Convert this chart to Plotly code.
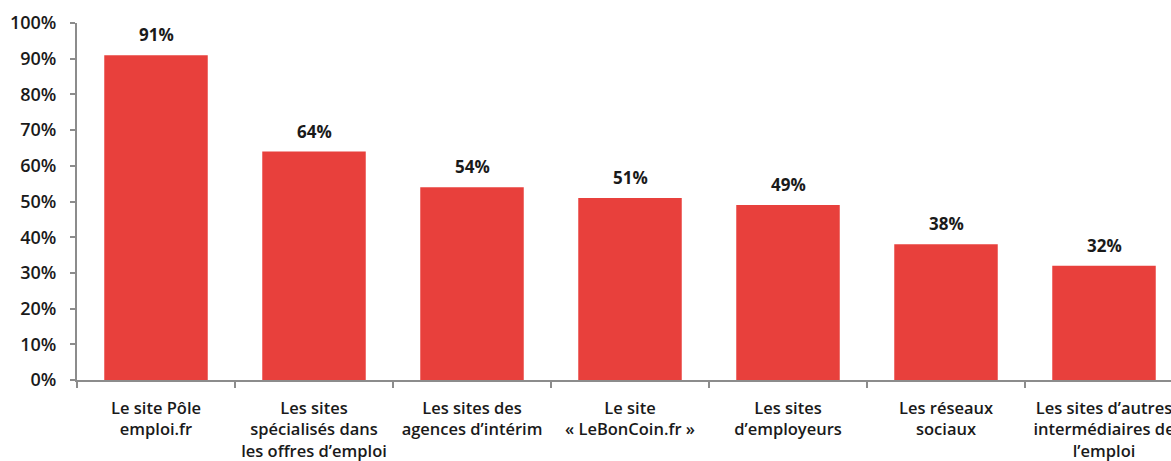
import plotly.graph_objects as go

categories = [
    "Le site Pôle<br>emploi.fr",
    "Les sites<br>spécialisés dans<br>les offres d’emploi",
    "Les sites des<br>agences d’intérim",
    "Le site<br>« LeBonCoin.fr »",
    "Les sites<br>d’employeurs",
    "Les réseaux<br>sociaux",
    "Les sites d’autres<br>intermédiaires de<br>l’emploi",
]
values = [91, 64, 54, 51, 49, 38, 32]
y_ticks = [0, 10, 20, 30, 40, 50, 60, 70, 80, 90, 100]
y_tick_labels = [f"{t}%" for t in y_ticks]

BAR = "#E8403C"
AXIS = "#8c8c8c"
FONT = "Open Sans"

fig = go.Figure()
fig.add_trace(go.Bar(
    x=list(range(len(categories))), y=values, marker_color=BAR, width=0.655,
    marker_line_width=0, hoverinfo="skip",
))
for i, v in enumerate(values):
    fig.add_annotation(x=i, y=v, text=f"<b>{v}%</b>", showarrow=False,
                       yanchor="bottom", yshift=7,
                       font=dict(family=FONT, size=17, color="#1a1a1a"))

fig.update_layout(
    width=1171, height=461,
    margin=dict(l=77, r=0, t=23, b=81),
    plot_bgcolor="white", paper_bgcolor="white",
    showlegend=False,
)
fig.update_xaxes(
    range=[-0.5, 6.424], automargin=False,
    tickmode="array", tickvals=list(range(len(categories))), ticktext=categories,
    ticklabeloverflow="allow",
    showline=True, linecolor=AXIS, linewidth=2,
    ticks="", showgrid=False, zeroline=False,
    tickfont=dict(family=FONT, size=16.5, color="#1a1a1a", weight=600),
    ticklabelstandoff=12,
    minor=dict(tickmode="array", tickvals=[i - 0.5 for i in range(len(categories) + 1)],
               ticks="outside", ticklen=6, tickcolor=AXIS, tickwidth=2),
)
fig.update_yaxes(
    range=[0, 100], automargin=False,
    tickmode="array", tickvals=y_ticks, ticktext=y_tick_labels,
    showline=True, linecolor=AXIS, linewidth=2,
    ticks="outside", ticklen=5, tickcolor=AXIS, tickwidth=2,
    showgrid=False, zeroline=False,
    tickfont=dict(family=FONT, size=18, color="#1a1a1a", weight=600),
    ticklabelstandoff=10,
)

fig.write_html(
    "out.html",
    config={"displayModeBar": False},
    post_script="document.body.style.margin='0';document.body.style.overflow='hidden';",
)
